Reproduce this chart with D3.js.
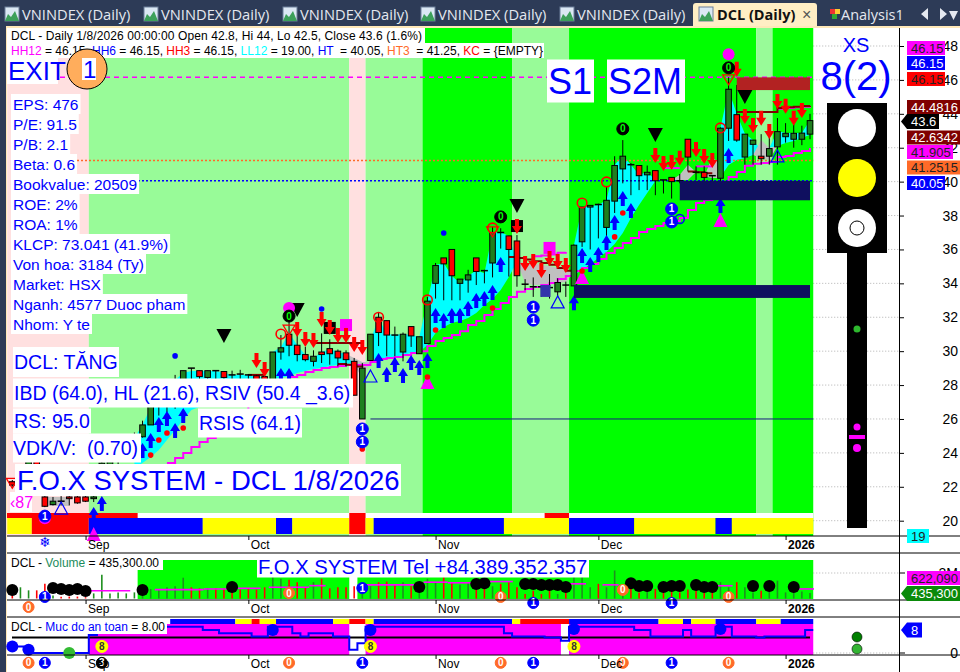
<!DOCTYPE html>
<html>
<head>
<meta charset="utf-8">
<script src="https://cdn.jsdelivr.net/npm/d3@7/dist/d3.min.js"></script>
<style>
  html, body { margin: 0; padding: 0; background: #fff; }
  svg { display: block; }
  text { font-family: "Liberation Sans", Arial, sans-serif; white-space: pre; }
</style>
</head>
<body>
<svg id="chart" width="960" height="672"></svg>
<script>
// daily bars
var opens = [22.3,22.5,23.2,23.6,21.4,20.95,21.15,21.4,21.4,21.4,21.3,22.1,23.0,23.5,23.9,24.3,24.95,25.65,26.75,27.5,27.8,28.3,29,28.85,28.45,28.85,28.8,28.6,28.65,28.6,28.55,28.5,28.3,29.95,31,30.35,29.8,29.4,29.95,30.15,30,29.9,29.4,26,29.45,32,31.8,30.95,29.95,31.45,29.85,30.45,34,35.5,36,34,34.2,35.5,34.75,35.2,37,36.8,36.5,33.95,33.8,33.8,33.75,33.5,33.9,33.85,36.45,38.5,38.65,37.3,38.85,40.75,41,40.95,40.4,40.65,40.1,40.25,40.05,42.5,40.55,40.55,40.35,40.2,43.15,43.95,41.45,42.2,41.5,41.5,42.05,42.65,42.5,42.5,42.8];
var highs = [22.4,23,23.95,23.9,21.45,21.4,21.45,21.45,21.45,21.45,21.45,23.5,24.1,24.5,24.8,25.2,25.9,27.2,28.2,28.3,28.6,28.85,29,28.85,28.85,28.85,28.8,28.85,28.9,28.65,28.6,28.7,29.95,30.95,32.05,31.05,30.25,30.05,31.05,30.7,30.1,30.05,29.6,29.3,31,32.25,31.8,31.45,31.1,31.45,30.85,33.2,35.2,35.5,36,34.25,34.8,35.5,34.8,37.35,37.25,36.8,36.85,34.25,34.35,33.85,34.55,34.3,34.1,36.3,38.5,38.6,38.7,39.7,41.5,42.45,41.1,40.95,40.95,40.65,40.1,40.25,40.45,42.5,40.9,40.9,40.35,43.2,46.15,45.7,42.8,42.45,42.8,42.8,43.75,43.45,43.4,43.3,44];
var lows = [22,22.3,23,23,20.8,20.9,20.9,20.9,21,21.1,21.1,22,22.8,23.3,23.6,24.1,24.9,25.65,26.2,26.4,26.6,27.6,27.8,28,28,27.9,27.9,28,28,28,27.9,27.8,28.3,29.5,29.7,29.4,29.4,29.1,29.3,29.2,29.1,29.1,27.4,26,29.45,30.3,29.7,29.7,29.4,30.25,29.85,30.45,33.1,33,33,33,33.45,33.9,34,34.35,36.05,34.4,33.8,33.6,33.2,33.2,33.1,33.2,33.2,33.85,36.15,36,36.65,36.75,38.15,39.9,39.2,39.5,39.5,39.2,39.3,39,39.9,40.6,40.1,39.8,39.65,39.8,42.4,42.35,41,41,41,41,41,42.3,42,42.15,42.5];
var closes = [22.1,22.9,23.7,23.1,20.85,21.15,21.1,21.3,21.05,21.15,21.4,23.4,23.9,24.2,24.5,25,25.65,26.75,27.6,27.9,28.3,28.85,28.95,28.5,28.85,28.82,28.45,28.58,28.6,28.55,28.3,28.3,29.95,30.2,30.35,29.8,29.5,29.7,29.8,29.85,29.6,29.5,27.4,29,31,31.1,30.95,30.93,31,30.9,30.85,32.95,35.05,35.15,34.45,34.25,34.5,34.7,34.72,37,36.97,36,34.45,33.9,33.75,33.78,33.7,34.05,33.85,36.25,38.5,38.6,38.6,38.9,40.95,41.5,40.95,40.35,40.55,40.05,40.07,40,40,41.45,40.5,40.25,40.3,43.15,45.45,42.45,42.8,42.45,41.35,41.95,42.95,42.85,42.85,42.86,43.6];
var volumes = [300000,880000,640000,640000,1150000,240000,130000,150000,150000,100000,400000,1870000,400000,480000,400000,480000,270000,750000,700000,880000,960000,1630000,880000,800000,800000,800000,800000,750000,700000,750000,700000,880000,1680000,1550000,1470000,1280000,880000,1280000,1550000,800000,880000,880000,960000,1280000,960000,1280000,1330000,1070000,1280000,960000,1280000,1550000,1280000,1680000,1280000,1070000,1280000,1550000,1000000,960000,1150000,1280000,880000,350000,610000,350000,610000,350000,480000,1680000,1680000,880000,1150000,880000,2200000,1000000,750000,480000,610000,750000,610000,610000,480000,700000,610000,480000,610000,1280000,880000,1280000,880000,480000,610000,1280000,1400000,480000,480000,540000,435300];
var safety = [2,2,1,0,0,0,0,0,0,0,5.5,8,8,8,8,8,8,8,8,8,8,8,8,8,7,7,6,6,6,6,5,5,8,8,8,6,5,6,6,6,5,5,1,3,8,8,8,8,8,8,8,8,8,8,8,8,8,8,8,8,8,6,5,5,5,5,4.7,4.7,3.7,8,8,8,8,8,8,8,8,7,7,5,5,5,5,7,5,5,5,8,8,5,5,5,4.7,5,5,5,5,5,7];
var railStart = 19;
var rail = [23.4,23.7,23.99,24.35,24.64,24.88,25.17,25.65,26.18,26.53,27,27.42,27.71,28.12,28.3,28.48,28.6,28.77,28.89,29,29.07,29.13,29.18,29.18,29.18,29.36,29.54,29.6,29.65,29.77,29.89,30,30.3,30.6,30.77,30.95,31.18,31.54,31.78,32.13,32.49,32.84,33.2,33.5,33.67,33.79,33.9,34.02,34.26,34.43,34.73,34.9,35.14,35.43,35.79,36.09,36.38,36.67,37.03,37.2,37.38,37.56,37.68,37.86,38.33,38.74,38.92,39.22,39.51,40.28,40.57,40.93,41.05,41.1,41.16,41.45,41.51,41.69,41.81,41.99];

// resistance stubs: [first bar, values]
var darkSegs = [[29,[28.6,28.6,28.6]],[37,[30.48,30.48,30.48,30.48,30.48,30.48,30.48]],[40,[29.25,29.2,29.1,29.05]],[61,[35.55,35.5,35.4,35.3,35.2,35.1,34.9,34.75,34.7]],[83,[40.6,40.55,40.5,40.5]],[89,[44.1,44.1,44.1,44.1,44.1,44.34,44.38,44.42,44.46,44.48]]];
var magentaSegs = [[64,[35.6,35.65,35.7,35.8,35.85]],[80,[40.8,40.8,40.8]],[84,[40.9,40.9,40.9]],[94,[44.3,44.34,44.38,44.42,44.48]]];

// ribbon fills: [first bar, tops, bottoms]
var cyanSegs = [
  [15,[24.9,25.65,26.7,27.12,27.71,28.3,28.71,28.83,28.83,28.83,28.83,28.71,28.6,28.6,28.6,28.53,28.4],[23.1,23.4,23.76,24.17,24.76,25.35,25.94,26.53,26.7,27.12,27.42,27.71,27.83,28,28.12,28.3,28.4]],
  [32,[29.95,30.25,31.07,30.37,29.77,29.6,29.95,30.13,29.95,29.83,29.3],[28.3,28.41,28.53,28.71,28.83,28.95,29,29.13,29.18,29.24,29.3]],
  [44,[30.66,31.96,31.01,30.95,31.01,30.95,30.83,32.96,35.08,35.2,34.43,34.02,34.43,34.78,34.6,36.97,37.03,36.8,35.27],[29.48,29.6,29.6,29.66,29.78,29.89,29.95,30.37,31.07,31.43,31.66,31.78,31.96,32.25,32.72,33.08,33.61,34.37,35.27]],
  [69,[36.26,38.5,38.55,38.62,38.92,40.99,41.52,40.99,40.4,40.57,40.1],[34.49,34.79,35.14,35.5,35.85,36.32,36.97,37.86,38.62,39.33,40.04]],
  [87,[43.17,45.41,44,42.82,42.46,41.87],[40.28,40.98,41.28,41.4,41.57,41.87]],
  [93,[41.99,42.99,42.87,42.87,42.87,43.64],[41.99,42.1,42.28,42.4,42.58,42.76]]
];
var graySegs = [
  [4,[21.4,21.4,21.4,21.4],[20.87,20.87,20.87,20.87]],
  [41,[29.83,29.6,29.36,29.36],[29.83,29.18,28.4,29.36]],
  [62,[35.27,35.2,35.2,35.08,35.02,34.9,34.78,34.67],[35.27,34.02,33.9,33.9,33.9,34.02,34.08,34.67]],
  [81,[40.1,40.4,40.99,40.57],[40.1,40.1,40.1,40.57]],
  [85,[40.3,41.46,40.99],[40.3,40.22,40.22]],
  [91,[41.57,42.46,41.99,42.1],[41.57,41.4,41.28,42.1]]
];

// arrows: bar, tip price
var upBars = [10,11,16,17,18,19,20,21,33,34,45,46,47,48,49,50,51,52,53,54,55,56,57,58,59,60,69,70,71,72,73,74,75,76,87,88];
var upTips = [20.81,21.46,24.58,25.17,26.12,26.47,25.76,26.65,29,29,29.89,29.07,29.66,29,29.78,29.48,29.89,32.55,32.25,32.55,32.55,32.96,33.43,33.55,33.9,35.56,33.3,36.09,35.56,36.15,36.85,38.03,39.45,38.74,39.04,41.99];
var downBars = [30,31,35,36,37,38,39,40,41,42,43,62,63,64,65,66,67,68,79,80,81,82,84,85,86,89,90,91,92,93,94,95,96,97];
var downTips = [29,28.48,30.84,30.25,30.19,31.43,30.95,30.48,30.48,29.95,29.78,36.91,34.73,34.85,34.32,35.02,34.85,34.61,41.1,40.63,40.69,40.93,41.46,41.04,40.81,46.18,43.4,42.87,43.29,42.52,44.29,44,43.29,43.76];

// signal marks: [bar, price]
var magentaTriangles = [[87,38.15],[51,28.6],[70,34.79],[10,19.63]];
var blackTriangles = [[90,45.41],[79,43.17],[62,38.98],[26,31.31],[35,32.84]];
var magentaCircles = [[88,47.52],[4,20.15],[34,32.55]];
var magentaSquares = [[66,36.09],[41,31.54]];
var blackSquares = [[62,37.38],[39,31.37]];
var redDiamonds = [[74,36.74],[75,38.15],[17,23.87],[18,24.76],[19,25.17],[21,25.47],[51,28.48],[52,31.25],[59,32.55],[70,34.73],[43,24.23]];
var blueDiamonds = [[53,36.97],[20,29.72],[38,32.49]];
var redRings = [[70,38.74],[73,39.98],[87,43.17],[59,37.27],[33,31.01],[45,32],[51,33.02]];
var blackZeros = [[75,43.11],[88,46.71],[60,37.92],[34,32.07]];
var redOutlines = [[88,46.3],[59,37.33],[34,31.54],[0,22.5]];
var blueOnes = [[81,38.39],[81,37.62],[43,25.41],[43,24.65],[4,20.27],[64,32.6],[64,31.83]];
var blueOutlines = [[94,41.87],[67,33.26],[44,28.89],[6,21.1]];

// regime colour runs: first bar of each run
var regimeStarts = [0,10,42,44,51,62,69,92,94];
var regimeColors = ["#ffe0e0","#98fb98","#ffe0e0","#98fb98","#00ff00","#98fb98","#00ff00","#98fb98","#00ff00"];
var ribbonStarts = [0,3,10,24,33,35,42,44,45,61,69,77,87,89];
var ribbonColors = ["#ffff00","#ff0000","#0000ff","#ffff00","#0000ff","#ffff00","#ff0000","#ffff00","#0000ff","#ffff00","#0000ff","#ffff00","#0000ff","#ffff00"];
var redStrips = [[0,16],[42,44],[66,69]];
var safetyRibbonStarts = [20,28,30,31,33,40,42,44,45,62,63,69,80,83,84,87,92,95];
var safetyRibbonColors = ["#0000ff","#ffff00","#ff0000","#ffff00","#0000ff","#ffff00","#ff0000","#ffff00","#0000ff","#ffff00","#ff0000","#0000ff","#ffff00","#0000ff","#ffff00","#0000ff","#ffff00","#0000ff"];
var safetyBgRuns = [[10,42],[44,68],[69,99]];
var volumeBgRuns = [[16,42],[43,99]];

var volMaSegs = [[10,613000,5],[18,694000,6],[24,747000,4],[28,800000,3],[32,880000,5],[37,1010000,2],[44,1070000,6],[51,1280000,3],[54,1230000,3],[59,1330000,3],[69,1150000,2],[73,1070000,2],[87,1000000,2],[96,747000,3]];
var volDotBars = [0,5,6,7,8,9,16,27,50,57,58,63,64,65,66,67,68,76,77,78,80,81,82,84,85,86,91,93,96];
var volDotVals = [670000,820000,750000,670000,750000,590000,670000,900000,900000,1140000,1200000,1140000,1140000,1060000,1060000,1060000,900000,1200000,980000,980000,900000,980000,980000,1060000,900000,900000,980000,980000,900000];
var volOrange = [[2,-670000],[34,430000],[60,120000],[75,670000],[88,120000]];
var volBlue = [[4,120000],[43,820000],[64,-350000],[81,-350000]];

var monthBars = [9,29,52,72,95];
var monthNames = ["Sep","Oct","Nov","Dec","2026"];
var priceTicks = [48,46,44,42,40,38,36,34,32,30,28,26,24,22,20];
var fundamentals = ["EPS: 476","P/E: 91.5","P/B: 2.1","Beta: 0.6","Bookvalue: 20509","ROE: 2%","ROA: 1%","KLCP: 73.041 (41.9%)","Von hoa: 3184 (Ty)","Market: HSX","Nganh: 4577 Duoc pham","Nhom: Y te"];

var svg = d3.select("#chart");
var lastBar = opens.length - 1;
var x = d3.scaleLinear().domain([0, lastBar]).range([12.3, 810]);
var y = d3.scaleLinear().domain([20, 48]).range([520.7, 46]);
var volY = d3.scaleLinear().domain([0, 2000000]).range([598.5, 573]);
var safeY = d3.scaleLinear().domain([0, 8]).range([653, 626.7]);
var edge = function (i) { return x(i) - 4.9; };
var BLUE = "#0000ff";

// ---- window chrome ----
svg.append("rect").attr("width", 960).attr("height", 672).attr("fill", "#fff");
svg.append("rect").attr("width", 960).attr("height", 26).attr("fill", "#2d3b57");
svg.append("rect").attr("y", 26).attr("width", 6).attr("height", 646).attr("fill", "#2d3b57");
svg.append("rect").attr("x", 6).attr("y", 26).attr("width", 954).attr("height", 2).attr("fill", "#ffe8b8");
svg.append("rect").attr("x", 6).attr("y", 26).attr("width", 1).attr("height", 646).attr("fill", "#ffe8b8");

var tabX = [5, 144, 283, 421, 560];
tabX.forEach(function (tx) {
  tabIcon(tx, 7);
  svg.append("text").attr("x", tx + 17).attr("y", 20).attr("fill", "#e4e8f0")
    .attr("font-size", 14.7).style("font-family", "'Open Sans'").text("VNINDEX (Daily)");
});
svg.append("path").attr("d", "M693 26V6Q693 3 696 3H814Q817 3 817 6V26Z").attr("fill", "#ffeec4");
tabIcon(699, 7);
svg.append("text").attr("x", 717).attr("y", 20).attr("font-weight", "bold").attr("fill", "#111")
  .attr("font-size", 14.5).style("font-family", "'Open Sans'").text("DCL (Daily)");
svg.append("text").attr("x", 802).attr("y", 20).attr("fill", "#555").attr("font-size", 16).text("×");
svg.append("rect").attr("x", 830).attr("y", 9).attr("width", 5).attr("height", 5).attr("fill", "#e33");
svg.append("rect").attr("x", 835).attr("y", 9).attr("width", 5).attr("height", 5).attr("fill", "#fc3");
svg.append("rect").attr("x", 832).attr("y", 14).attr("width", 5).attr("height", 5).attr("fill", "#3a3");
svg.append("text").attr("x", 841).attr("y", 20).attr("fill", "#e4e8f0")
  .attr("font-size", 14.5).style("font-family", "'Open Sans'").text("Analysis1");
svg.append("path").attr("d", "M928 8L921 14L928 20ZM940 8L947 14L940 20ZM949 11H958L953.5 20Z").attr("fill", "#e4e8f0");

function tabIcon(tx, ty) {
  svg.append("rect").attr("x", tx).attr("y", ty).attr("width", 14).attr("height", 14).attr("fill", "#dbe8f4").attr("stroke", "#6c7f99");
  svg.append("path").attr("d", "M" + tx + " " + (ty + 14) + "l3-7 3 3 4-6 4 10z").attr("fill", "#3ca05a");
}

// ---- price grid, behind the panes ----
var grid = svg.append("g");
priceTicks.forEach(function (t) {
  grid.append("line").attr("x1", edge(lastBar + 1)).attr("x2", 899).attr("y1", y(t)).attr("y2", y(t))
    .attr("stroke", "#b0b0b0").attr("stroke-dasharray", "1,2");
});

// ---- main pane background ----
function runs(starts, colors, top, bottom, g) {
  starts.forEach(function (s, k) {
    var end = k + 1 < starts.length ? starts[k + 1] : lastBar + 1;
    g.append("rect").attr("x", edge(s)).attr("y", top)
      .attr("width", edge(end) - edge(s)).attr("height", bottom - top)
      .attr("fill", colors[k]);
  });
}
var main = svg.append("g");
var back = main.append("g");
runs(regimeStarts, regimeColors, 28, 536, back);
back.append("rect").attr("x", 7).attr("y", 28).attr("width", edge(0) - 7).attr("height", 508).attr("fill", "#ffe0e0");
back.append("rect").attr("x", 7).attr("y", 513).attr("width", edge(lastBar + 1) - 7).attr("height", 5).attr("fill", "#fff");
runs(ribbonStarts, ribbonColors, 518, 534, back);
back.append("rect").attr("x", 7).attr("y", 518).attr("width", edge(0) - 7).attr("height", 16).attr("fill", "#ffff00");
redStrips.forEach(function (r) {
  back.append("rect").attr("x", r[0] === 0 ? 7 : edge(r[0])).attr("y", 513)
    .attr("width", edge(r[1]) - (r[0] === 0 ? 7 : edge(r[0]))).attr("height", 5).attr("fill", "#ff0000");
});

// ribbon fills
var bandArea = d3.area().x(function (d) { return x(d.i); })
  .y0(function (d) { return y(d.b); }).y1(function (d) { return y(d.t); });
function fillSegs(segs, color) {
  segs.forEach(function (s) {
    var pts = s[1].map(function (t, k) { return { i: s[0] + k, t: t, b: s[2][k] }; });
    main.append("path").attr("d", bandArea(pts)).attr("fill", color);
  });
}
fillSegs(cyanSegs, "#00ffff");
fillSegs(graySegs, "#c0c0c0");

// level lines
[[46.15, "#ff00ff", "5,4", 60], [41.2515, "#ff6a28", "2,2", 77], [40.05, BLUE, "2,2", 138]].forEach(function (l) {
  main.append("line").attr("x1", l[3]).attr("x2", edge(lastBar + 1)).attr("y1", y(l[0])).attr("y2", y(l[0]))
    .attr("stroke", l[1]).attr("stroke-width", 1.5).attr("stroke-dasharray", l[2]);
});
main.append("line").attr("x1", x(44)).attr("x2", edge(lastBar + 1)).attr("y1", y(26)).attr("y2", y(26))
  .attr("stroke", "#1a1a80").attr("stroke-width", 1);

// rail and resistance stubs
var stepLine = d3.line().x(function (d) { return x(d.i); }).y(function (d) { return y(d.v); }).curve(d3.curveStepAfter);
var railPts = rail.map(function (v, k) { return { i: railStart + k, v: v }; });
main.append("path").attr("d", stepLine(railPts)).attr("fill", "none").attr("stroke", "#ff00ff").attr("stroke-width", 2);
function stubs(segs, color) {
  segs.forEach(function (s) {
    var pts = s[1].map(function (v, k) { return { i: s[0] + k, v: v }; });
    main.append("path").attr("d", stepLine(pts)).attr("fill", "none").attr("stroke", color).attr("stroke-width", 2);
  });
}
stubs(magentaSegs, "#ff00ff");
stubs(darkSegs, "#800000");

// arrows over the candles
function arrow(g, i, tip, dir, color) {
  var px = x(i), py = y(tip);
  var d = dir < 0
    ? "M" + px + " " + py + "l-5 8h3v7h4v-7h3z"
    : "M" + px + " " + py + "l-5 -8h3v-7h4v7h3z";
  g.append("path").attr("d", d).attr("fill", color);
}

// candles
var candles = main.append("g");
opens.forEach(function (o, i) {
  var c = closes[i], px = x(i);
  candles.append("line").attr("x1", px).attr("x2", px).attr("y1", y(highs[i])).attr("y2", y(lows[i]))
    .attr("stroke", "#000").attr("stroke-width", 1);
  if (Math.abs(o - c) <= 0.06) {
    candles.append("line").attr("x1", px - 3.5).attr("x2", px + 3.5).attr("y1", y(o)).attr("y2", y(o))
      .attr("stroke", "#000").attr("stroke-width", 1.5);
  } else {
    candles.append("rect").attr("x", px - 2.8).attr("width", 5.6)
      .attr("y", y(Math.max(o, c))).attr("height", Math.abs(y(o) - y(c)))
      .attr("fill", c > o ? "#1f7f1f" : "#ff0000").attr("stroke", "#000").attr("stroke-width", 1);
  }
});

// supply / demand boxes
main.append("rect").attr("x", x(65) - 1).attr("width", x(66) - x(65) + 2).attr("y", y(33.9)).attr("height", y(33.2) - y(33.9)).attr("fill", "#3333aa");
upBars.forEach(function (b, k) { arrow(main, b, upTips[k], -1, BLUE); });
[[69, 33.9, 33.14, "#0f0f5f"], [82, 40.05, 38.9, "#0f0f5f"], [89, 46.15, 45.4, "#b22222"]].forEach(function (b) {
  main.append("rect").attr("x", x(b[0])).attr("width", x(lastBar) - x(b[0]))
    .attr("y", y(b[1])).attr("height", y(b[2]) - y(b[1])).attr("fill", b[3]);
});

// signal marks
function tri(list, w, h, up, fill, stroke) {
  list.forEach(function (m) {
    var px = x(m[0]), py = y(m[1]);
    var d = up
      ? "M" + px + " " + py + "L" + (px + w / 2) + " " + (py + h) + "H" + (px - w / 2) + "Z"
      : "M" + (px - w / 2) + " " + py + "H" + (px + w / 2) + "L" + px + " " + (py + h) + "Z";
    main.append("path").attr("d", d).attr("fill", fill).attr("stroke", stroke).attr("stroke-width", 1.2);
  });
}
function dots(g, list, r, fill, stroke, sw, yScale) {
  list.forEach(function (m) {
    g.append("circle").attr("cx", x(m[0])).attr("cy", (yScale || y)(m[1])).attr("r", r)
      .attr("fill", fill).attr("stroke", stroke || "none").attr("stroke-width", sw || 0);
  });
}
function badges(g, list, r, fill, stroke, txtColor, label, yScale) {
  dots(g, list, r, fill, stroke, 1, yScale);
  list.forEach(function (m) {
    g.append("text").attr("x", x(m[0])).attr("y", (yScale || y)(m[1]) + 3.5).attr("text-anchor", "middle")
      .attr("font-size", 10).attr("font-weight", "bold").attr("fill", txtColor).text(label);
  });
}
tri(magentaTriangles, 14, 14, true, "#ff00ff", "none");
tri(blackTriangles, 15, 14, false, "#000", "none");
tri(redOutlines, 12, 10, false, "none", "#ff0000");
tri(blueOutlines, 13, 12, true, "none", BLUE);
magentaSquares.forEach(function (m) {
  main.append("rect").attr("x", x(m[0]) - 6).attr("y", y(m[1]) - 6).attr("width", 12).attr("height", 12).attr("fill", "#ff00ff");
});
blackSquares.forEach(function (m) {
  main.append("rect").attr("x", x(m[0]) - 6).attr("y", y(m[1]) - 6).attr("width", 12).attr("height", 12).attr("fill", "#000");
});
downBars.forEach(function (b, k) { arrow(main, b, downTips[k], 1, "#ff0000"); });
dots(main, magentaCircles, 6, "#ff00ff");
dots(main, redDiamonds, 2.8, "#ff0000");
dots(main, blueDiamonds, 2.8, BLUE);
dots(main, redRings, 4.8, "none", "#ff0000", 1.6);
badges(main, blackZeros, 6, "#000", "#000", "#00ff00", "0");
badges(main, blueOnes, 6, BLUE, BLUE, "#fff", "1");
main.append("circle").attr("cx", x(82)).attr("cy", y(37.8)).attr("r", 4.5).attr("fill", "none").attr("stroke", BLUE).attr("stroke-width", 1.5);

// ---- labels with white boxes ----
function label(text, tx, cy, size, bx, bw, bh, color) {
  svg.append("rect").attr("x", bx).attr("y", cy - bh / 2).attr("width", bw).attr("height", bh).attr("fill", "#fff");
  svg.append("text").attr("x", tx).attr("y", cy + size * 0.36).attr("font-size", size)
    .attr("fill", color || BLUE).text(text);
}
label("EXIT", 8, 71, 26, 7, 51, 26);
fundamentals.forEach(function (f, k) {
  var cy = 104 + k * 20;
  var box = svg.append("rect").attr("x", 11).attr("y", cy - 10).attr("height", 20).attr("fill", "#fff");
  var t = svg.append("text").attr("x", 13).attr("y", cy + 6).attr("font-size", 15.5).attr("fill", BLUE).text(f);
  box.attr("width", t.node().getComputedTextLength() + 4);
});
label("DCL: TĂNG", 14, 362, 19.5, 13, 106, 30);
label("IBD (64.0), HL (21.6), RSIV (50.4 _3.6)", 14, 393, 19.5, 13, 340, 29);
label("RS: 95.0", 14, 421, 19.5, 13, 78, 25);
label("RSIS (64.1)", 199, 423, 19.5, 198, 104, 29);
label("VDK/V:  (0.70)", 13, 448, 19.5, 13, 128, 29);
label("F.O.X SYSTEM - DCL 1/8/2026", 17, 480, 27.5, 15, 386, 32);
label("S1", 548, 81, 36, 547, 47, 43);
label("S2M", 608, 81, 36, 607, 78, 43);
label("‹87", 10, 502, 16, 10, 22, 20, "#ff00ff");

// title rows
svg.append("rect").attr("x", 7).attr("y", 28).attr("width", 418).attr("height", 15).attr("fill", "#fff");
svg.append("text").attr("x", 11).attr("y", 40).attr("font-size", 12).attr("textLength", 411)
  .text("DCL - Daily 1/8/2026 00:00:00 Open 42.8, Hi 44, Lo 42.5, Close 43.6 (1.6%)");
svg.append("rect").attr("x", 7).attr("y", 43).attr("width", 537).attr("height", 15).attr("fill", "#fff");
var hdr = svg.append("text").attr("x", 11).attr("y", 55).attr("font-size", 12).attr("textLength", 532);
[["HH12", "#ff00ff"], [" = 46.15, ", "#000"], ["HH6", BLUE], [" = 46.15, ", "#000"], ["HH3", "#ff0000"], [" = 46.15, ", "#000"],
 ["LL12", "#00ffff"], [" = 19.00, ", "#000"], ["HT ", BLUE], [" = 40.05, ", "#000"], ["HT3 ", "#ff6a28"], [" = 41.25, ", "#000"],
 ["KC", "#ff0000"], [" = {EMPTY}", "#000"]].forEach(function (p) {
  hdr.append("tspan").attr("fill", p[1]).text(p[0]);
});
// the exit ring sits over the title row
svg.append("circle").attr("cx", 87).attr("cy", 69).attr("r", 20).attr("fill", "#ffad5c").attr("stroke", "#000");
label("1", 83, 69, 24, 82, 14, 22);

// ---- traffic light ----
var light = svg.append("g");
light.append("rect").attr("x", 847).attr("y", 253).attr("width", 20).attr("height", 275).attr("fill", "#000");
light.append("rect").attr("x", 827).attr("y", 103).attr("width", 60).attr("height", 150).attr("fill", "#000");
[[128, "#fff"], [178, "#ffff00"], [228, "#fff"]].forEach(function (c) {
  light.append("circle").attr("cx", 857).attr("cy", c[0]).attr("r", 19).attr("fill", c[1]);
});
light.append("circle").attr("cx", 857).attr("cy", 228).attr("r", 7).attr("fill", "none").attr("stroke", "#000");
light.append("circle").attr("cx", 857).attr("cy", 329).attr("r", 3.5).attr("fill", "#2eb82e");
light.append("circle").attr("cx", 857).attr("cy", 427).attr("r", 3.5).attr("fill", "#ff00ff");
light.append("rect").attr("x", 849).attr("y", 435).attr("width", 16).attr("height", 4).attr("fill", "#ff00ff");
light.append("circle").attr("cx", 857).attr("cy", 448).attr("r", 4).attr("fill", "#ff00ff");
svg.append("text").attr("x", 856).attr("y", 52).attr("text-anchor", "middle").attr("font-size", 20).attr("fill", BLUE).text("XS");
svg.append("text").attr("x", 856).attr("y", 90).attr("text-anchor", "middle").attr("font-size", 40).attr("fill", BLUE).text("8(2)");

// ---- volume pane ----
var vol = svg.append("g");
volumeBgRuns.forEach(function (r) {
  vol.append("rect").attr("x", edge(r[0])).attr("y", 560).attr("width", edge(r[1]) - edge(r[0])).attr("height", 39).attr("fill", "#00ff00");
});
vol.selectAll(".vbar").data(volumes).enter().append("line").attr("class", "vbar")
  .attr("x1", function (d, i) { return x(i); }).attr("x2", function (d, i) { return x(i); })
  .attr("y1", volY(0)).attr("y2", function (d) { return volY(d); })
  .attr("stroke", function (d, i) { return closes[i] < opens[i] ? "#ff0000" : "#1f8f1f"; }).attr("stroke-width", 1.6);
volMaSegs.forEach(function (s) {
  vol.append("line").attr("x1", x(s[0]) - 4).attr("x2", x(s[0] + s[2] - 1) + 4)
    .attr("y1", volY(s[1])).attr("y2", volY(s[1])).attr("stroke", "#ff00ff").attr("stroke-width", 1.6);
});
volDotBars.forEach(function (b, k) {
  vol.append("circle").attr("cx", x(b)).attr("cy", volY(volDotVals[k])).attr("r", 6).attr("fill", "#000");
});
badges(vol, volOrange, 5.5, "#ff6a28", "#ff6a28", "#fff", "0", volY);
badges(vol, volBlue, 5.5, BLUE, BLUE, "#fff", "1", volY);
label("F.O.X SYSTEM Tel +84.389.352.357", 258, 567, 20.3, 257, 332, 21);
svg.append("rect").attr("x", 7).attr("y", 556).attr("width", 156).attr("height", 14).attr("fill", "#fff");
var vt = svg.append("text").attr("x", 11).attr("y", 567).attr("font-size", 12);
vt.append("tspan").text("DCL - ");
vt.append("tspan").attr("fill", "#1c8c5c").text("Volume");
vt.append("tspan").text(" = 435,300.00");

// ---- safety pane ----
var safe = svg.append("g");
safetyBgRuns.forEach(function (r) {
  safe.append("rect").attr("x", edge(r[0])).attr("y", 624).attr("width", edge(r[1]) - edge(r[0])).attr("height", 31).attr("fill", "#ff00ff");
});
runs(safetyRibbonStarts, safetyRibbonColors, 619, 624, safe);
safe.append("line").attr("x1", 12).attr("x2", 810).attr("y1", safeY(4.7)).attr("y2", safeY(4.7)).attr("stroke", "#000").attr("stroke-width", 2);
var safetyLine = d3.line().x(function (d, i) { return edge(i); }).y(function (d) { return safeY(d); }).curve(d3.curveStepAfter);
safe.append("path").attr("d", safetyLine(safety.concat([safety[lastBar]]))).attr("fill", "none").attr("stroke", BLUE).attr("stroke-width", 2);
dots(safe, [[0, 2], [2, 1]], 6, BLUE, null, 0, safeY);
dots(safe, [[7, 0]], 6, "#33bb33", null, 0, safeY);
dots(safe, [[32, 7], [44, 7], [69, 7.3], [87, 7.3]], 6, BLUE, null, 0, safeY);
badges(safe, [[11, 2], [44, 2], [69, 2]], 6, "#ffff00", "#ffff00", "#333", "8", safeY);
badges(safe, [[2, -3], [34, -3], [60, -3], [75, -3], [88, -3]], 5.5, "#ff6a28", "#ff6a28", "#fff", "0", safeY);
badges(safe, [[4, -3], [43, -3], [64, -3], [81, -3]], 5.5, BLUE, BLUE, "#fff", "1", safeY);
badges(safe, [[11, -3]], 5.5, "#000", "#000", "#fff", "3", safeY);
svg.append("rect").attr("x", 7).attr("y", 619).attr("width", 160).attr("height", 15).attr("fill", "#fff");
var st = svg.append("text").attr("x", 11).attr("y", 631).attr("font-size", 12);
st.append("tspan").text("DCL - ");
st.append("tspan").attr("fill", BLUE).text("Muc do an toan");
st.append("tspan").text(" = 8.00");

// ---- date axes and pane rules ----
[536, 600, 655].forEach(function (rowY) {
  var axis = d3.axisBottom(x).tickValues(monthBars).tickSize(4)
    .tickFormat(function (d, i) { return monthNames[i]; });
  var g = svg.append("g").attr("transform", "translate(0," + rowY + ")").call(axis);
  g.select(".domain").remove();
  g.selectAll(".tick line").attr("stroke", "#000");
  g.selectAll(".tick text").attr("text-anchor", "start").attr("x", 2).attr("y", 4).attr("dy", "0.71em")
    .attr("font-size", 12).attr("font-family", "Liberation Sans").attr("fill", "#000")
    .attr("font-weight", function (d) { return d === 95 ? "bold" : null; });
});
[536, 553, 600, 617, 655].forEach(function (ry) {
  svg.append("line").attr("x1", 7).attr("x2", 960).attr("y1", ry).attr("y2", ry).attr("stroke", "#000").attr("stroke-width", 1);
});
svg.append("text").attr("x", 45).attr("y", 547).attr("text-anchor", "middle").attr("font-size", 14)
  .attr("fill", BLUE).style("font-family", "DejaVu Sans").text("❄");

// ---- price axis ----
var priceAxis = d3.axisRight(y).tickValues(priceTicks).tickSize(5).tickFormat(d3.format("d"));
var pa = svg.append("g").attr("transform", "translate(899,0)").call(priceAxis);
pa.select(".domain").attr("d", "M0.5,28V672");
pa.selectAll(".tick text").attr("x", 59).attr("text-anchor", "end").attr("font-size", 14)
  .attr("font-family", "Liberation Sans").attr("fill", "#000");
[[573, "2M"], [653, "0"]].forEach(function (t) {
  svg.append("line").attr("x1", 899).attr("x2", 905).attr("y1", t[0]).attr("y2", t[0]).attr("stroke", "#000");
  svg.append("text").attr("x", 958).attr("y", t[0] + 5).attr("text-anchor", "end").attr("font-size", 14).text(t[1]);
  svg.append("line").attr("x1", edge(lastBar + 1)).attr("x2", 899).attr("y1", t[0]).attr("y2", t[0]).attr("stroke", "#b0b0b0").attr("stroke-dasharray", "1,2");
});

// value pills on the axis
function pill(text, cy, w, fill, color, pointer) {
  var x0 = 907, h = 14;
  if (pointer) {
    svg.append("path").attr("d", "M901 " + cy + "L907 " + (cy - h / 2 - 0.5) + "H" + (x0 + w) + "V" + (cy + h / 2 + 0.5) + "H907Z").attr("fill", fill);
  } else {
    svg.append("rect").attr("x", x0).attr("y", cy - h / 2).attr("width", w).attr("height", h).attr("fill", fill);
  }
  svg.append("text").attr("x", x0 + 4).attr("y", cy + 4.7).attr("font-size", 13).attr("fill", color).text(text);
}
pill("46.15", 48, 38, "#ff00ff", "#222");
pill("46.15", 63, 38, BLUE, "#fff");
pill("46.15", 79, 38, "#ff0000", "#222");
pill("44.4816", 107, 53, "#800000", "#fff");
pill("43.6", 121.5, 32, "#000", "#fff", true);
pill("42.6342", 137.5, 53, "#800000", "#fff");
pill("41.905", 152, 46, "#ff00ff", "#222");
pill("41.2515", 167.5, 53, "#ff6a28", "#222");
pill("40.05", 183, 38, BLUE, "#fff");
pill("19", 536, 22, "#00ffff", "#222");
pill("622,090", 578, 53, "#ff00ff", "#222");
pill("435,300", 593.5, 53, "#0a8a0a", "#fff", true);
pill("8", 630, 15, BLUE, "#fff", true);

// safety-state dots by the light
svg.append("circle").attr("cx", 857).attr("cy", 637).attr("r", 5).attr("fill", "#008000").attr("stroke", "#000").attr("stroke-width", 0.6);
svg.append("circle").attr("cx", 857).attr("cy", 649).attr("r", 5).attr("fill", "#32b432").attr("stroke", "#000").attr("stroke-width", 0.6);
</script>
</body>
</html>
